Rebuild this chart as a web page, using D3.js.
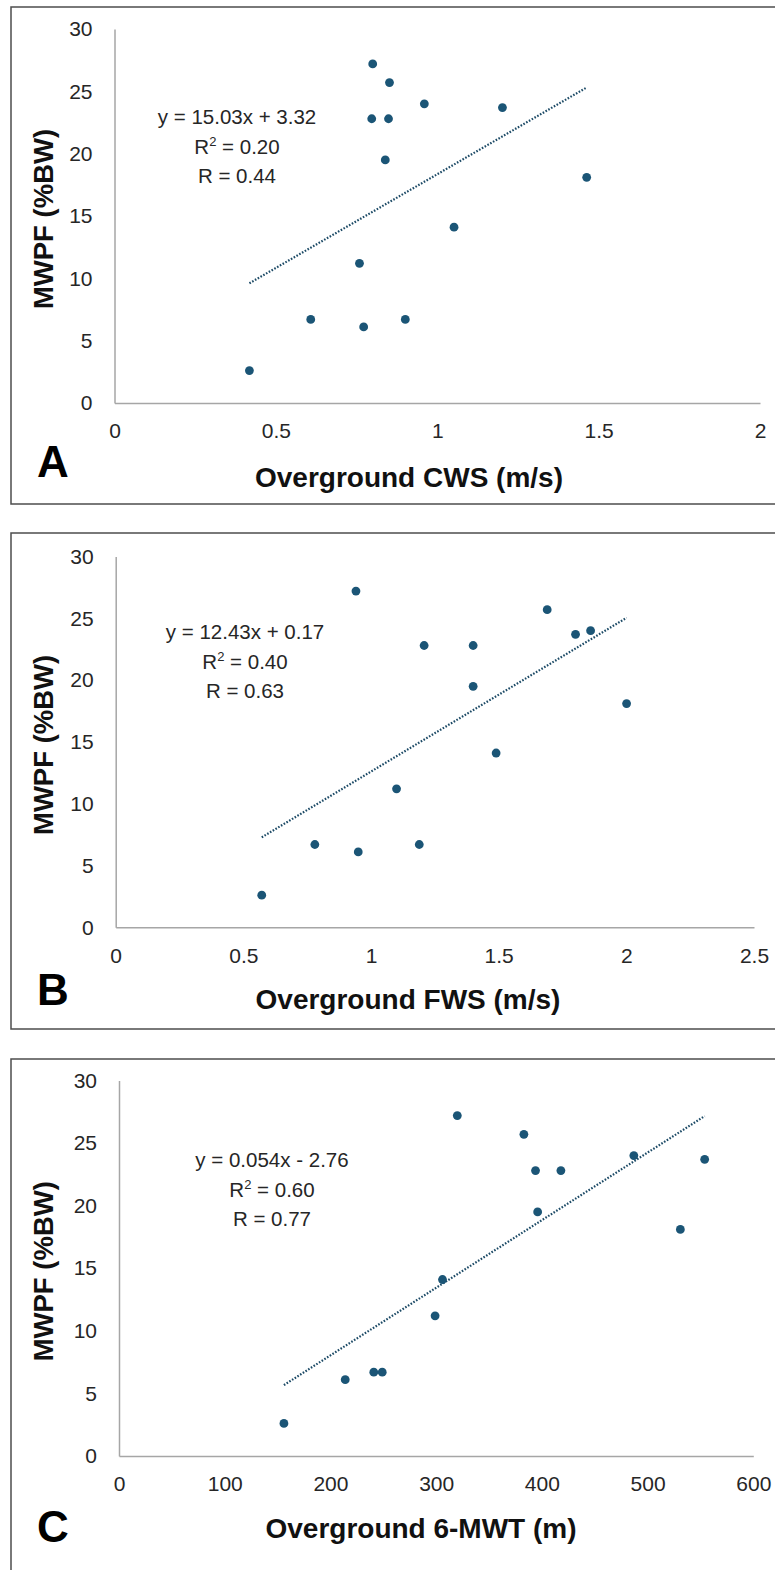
<!DOCTYPE html>
<html>
<head>
<meta charset="utf-8">
<script src="https://cdn.jsdelivr.net/npm/d3@7"></script>
<style>
	html, body {
		margin: 0;
		padding: 0;
		background: #fff;
	}
	svg {
		display: block;
	}
	.tick text {
		font-family: 'Liberation Sans', Arial, sans-serif;
		font-size: 21px;
		fill: #262626;
	}
</style>
</head>
<body>
<div class="figure"></div>
<script>
// panel A - overground comfortable walking speed
var cwsX = [0.418, 0.608, 0.772, 0.759, 0.800, 0.852, 0.797, 0.849, 0.839, 0.960, 1.202, 1.463, 1.052, 0.901];
var cwsY = [2.6, 6.7, 6.1, 11.2, 27.2, 25.7, 22.8, 22.8, 19.5, 24.0, 23.7, 18.1, 14.1, 6.7];
var cwsTicks = [0, 0.5, 1, 1.5, 2];

// panel B - overground fast walking speed
var fwsX = [0.572, 0.780, 0.950, 0.941, 1.100, 1.208, 1.400, 1.400, 1.690, 1.801, 1.860, 2.001, 1.490, 1.189];
var fwsY = [2.6, 6.7, 6.1, 27.2, 11.2, 22.8, 22.8, 19.5, 25.7, 23.7, 24.0, 18.1, 14.1, 6.7];
var fwsTicks = [0, 0.5, 1, 1.5, 2, 2.5];

// panel C - six minute walk test distance
var mwtX = [156, 214, 241, 249, 320, 383, 394, 418, 396, 487, 554, 531, 306, 299];
var mwtY = [2.6, 6.1, 6.7, 6.7, 27.2, 25.7, 22.8, 22.8, 19.5, 24.0, 23.7, 18.1, 14.1, 11.2];
var mwtTicks = [0, 100, 200, 300, 400, 500, 600];

var mwpfTicks = [0, 5, 10, 15, 20, 25, 30];

// regression results printed on each panel
var slopes = [15.03, 12.43, 0.054];
var intercepts = [3.32, 0.17, -2.76];
var rSquared = ['0.20', '0.40', '0.60'];
var rValues = ['0.44', '0.63', '0.77'];
var equations = ['y = 15.03x + 3.32', 'y = 12.43x + 0.17', 'y = 0.054x - 2.76'];

var panelLetters = ['A', 'B', 'C'];
var xTitles = ['Overground CWS (m/s)', 'Overground FWS (m/s)', 'Overground 6-MWT (m)'];
var yTitle = 'MWPF (%BW)';

initScatterPanels();

// scatter panels init
function initScatterPanels() {
	var width = 775;
	var height = 1570;
	var dotColor = '#1b5576';
	var fontFamily = "'Liberation Sans', Arial, sans-serif";

	var panels = [
		{ xs: cwsX, ys: cwsY, ticks: cwsTicks, max: 2, box: [11, 7, 497], plot: [114.5, 760, 29, 403], eq: [237, 124], title: [409, 487], letter: [37, 477] },
		{ xs: fwsX, ys: fwsY, ticks: fwsTicks, max: 2.5, box: [11, 533, 496], plot: [115.7, 754, 556.5, 927.3], eq: [245, 639], title: [408, 1009], letter: [37, 1005] },
		{ xs: mwtX, ys: mwtY, ticks: mwtTicks, max: 600, box: [11, 1059, 600], plot: [119, 753.3, 1080.5, 1456], eq: [272, 1167], title: [421, 1538], letter: [37, 1542] }
	];

	var svg = d3.select('.figure')
		.append('svg')
		.attr('width', width)
		.attr('height', height);

	panels.forEach(function(p, i) {
		var g = svg.append('g');
		var xScale = d3.scaleLinear().domain([0, p.max]).range([p.plot[0], p.plot[1]]);
		var yScale = d3.scaleLinear().domain([0, 30]).range([p.plot[3], p.plot[2]]);

		// panel frame (right and bottom edges run off the page)
		g.append('rect')
			.attr('x', p.box[0])
			.attr('y', p.box[1])
			.attr('width', width + 20)
			.attr('height', p.box[2])
			.attr('fill', 'none')
			.attr('stroke', '#4d4d4d')
			.attr('stroke-width', 1.5);

		var yAxis = g.append('g')
			.attr('transform', 'translate(' + p.plot[0] + ',0)')
			.call(d3.axisLeft(yScale).tickValues(mwpfTicks).tickSize(0).tickPadding(22));

		var xAxis = g.append('g')
			.attr('transform', 'translate(0,' + p.plot[3] + ')')
			.call(d3.axisBottom(xScale).tickValues(p.ticks).tickFormat(d3.format('')).tickSize(0).tickPadding(21));

		[xAxis, yAxis].forEach(function(ax) {
			ax.select('.domain')
				.attr('stroke', '#a6a6a6')
				.attr('stroke-width', 1.5);
			ax.selectAll('.tick text')
				.attr('font-family', null)
				.attr('font-size', null);
		});
		xAxis.selectAll('.tick text').attr('dy', '0.68em');

		// dotted trend line over the data range
		var x0 = d3.min(p.xs);
		var x1 = d3.max(p.xs);

		g.append('line')
			.attr('x1', xScale(x0))
			.attr('y1', yScale(slopes[i] * x0 + intercepts[i]))
			.attr('x2', xScale(x1))
			.attr('y2', yScale(slopes[i] * x1 + intercepts[i]))
			.attr('stroke', '#1c4a66')
			.attr('stroke-width', 2.2)
			.attr('stroke-dasharray', '1.6,1.6');

		g.selectAll('.dot')
			.data(p.xs)
			.enter()
			.append('circle')
			.attr('class', 'dot')
			.attr('cx', function(d) {
				return xScale(d);
			})
			.attr('cy', function(d, k) {
				return yScale(p.ys[k]);
			})
			.attr('r', 4.4)
			.attr('fill', dotColor);

		// equation block
		var eq = g.append('text')
			.attr('font-family', fontFamily)
			.attr('font-size', 20.5)
			.attr('fill', '#262626')
			.attr('text-anchor', 'middle');

		eq.append('tspan')
			.attr('x', p.eq[0])
			.attr('y', p.eq[1])
			.text(equations[i]);

		var r2 = eq.append('tspan')
			.attr('x', p.eq[0])
			.attr('y', p.eq[1] + 29.5);
		r2.append('tspan').text('R');
		r2.append('tspan')
			.attr('font-size', 13)
			.attr('dy', -8)
			.text('2');
		r2.append('tspan')
			.attr('dy', 8)
			.text(' = ' + rSquared[i]);

		eq.append('tspan')
			.attr('x', p.eq[0])
			.attr('y', p.eq[1] + 59)
			.text('R = ' + rValues[i]);

		// axis titles
		g.append('text')
			.attr('transform', 'translate(' + (p.box[0] + 42) + ',' + ((p.plot[2] + p.plot[3]) / 2 + 3) + ') rotate(-90)')
			.attr('text-anchor', 'middle')
			.attr('font-family', fontFamily)
			.attr('font-weight', 'bold')
			.attr('font-size', 27.5)
			.attr('fill', '#111')
			.text(yTitle);

		g.append('text')
			.attr('x', p.title[0])
			.attr('y', p.title[1])
			.attr('text-anchor', 'middle')
			.attr('font-family', fontFamily)
			.attr('font-weight', 'bold')
			.attr('font-size', 28)
			.attr('fill', '#111')
			.text(xTitles[i]);

		g.append('text')
			.attr('x', p.letter[0])
			.attr('y', p.letter[1])
			.attr('font-family', fontFamily)
			.attr('font-weight', 'bold')
			.attr('font-size', 44)
			.attr('fill', '#000')
			.text(panelLetters[i]);
	});
}
</script>
</body>
</html>
